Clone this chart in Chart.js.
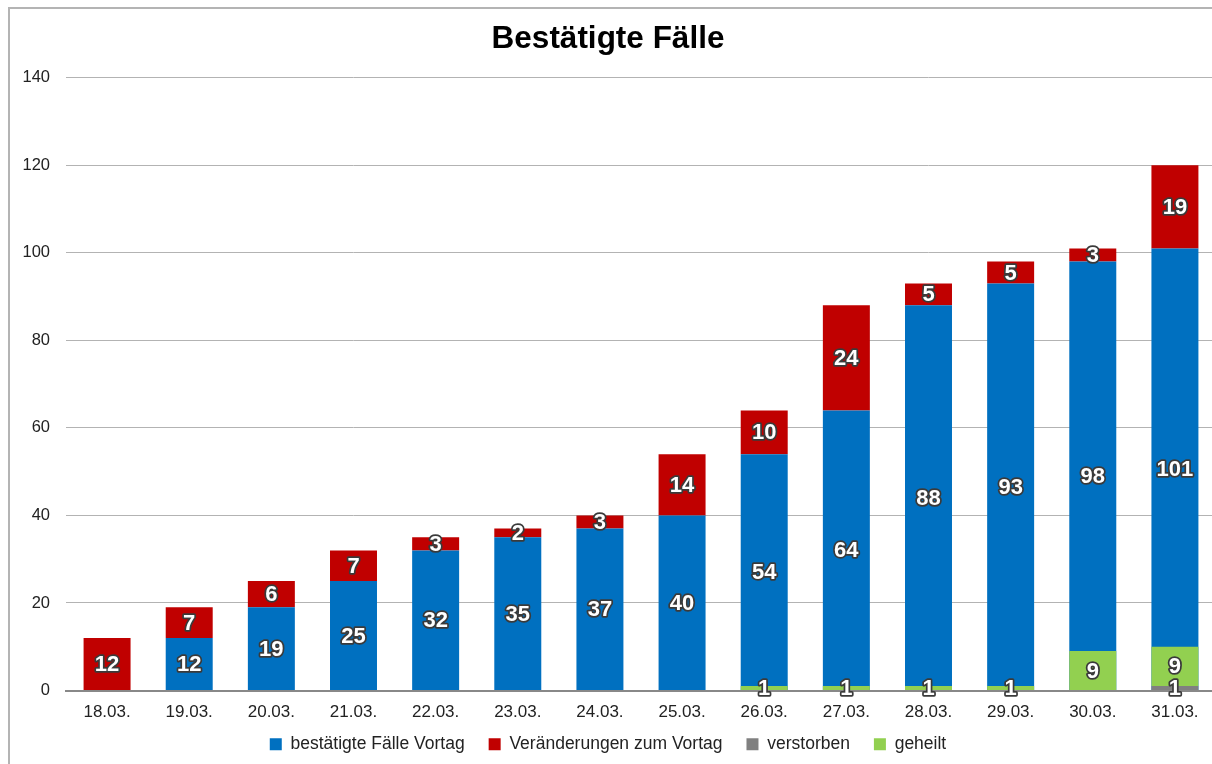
<!DOCTYPE html>
<html lang="de">
<head>
    <meta charset="UTF-8">
    <title>Bestätigte Fälle</title>
    <script src="https://cdn.jsdelivr.net/npm/chart.js"></script>
    <style>
        html, body { margin: 0; padding: 0; background: #fff; overflow: hidden; }
        .frame { position: absolute; left: 8px; top: 7px; width: 1220px; height: 800px; border: 2px solid #b4b4b4; box-sizing: border-box; }
        .wrap { position: absolute; left: 0; top: 0; width: 1230px; height: 764px; }
    </style>
</head>
<body>
    <div class="frame"></div>
    <div class="wrap">
        <canvas id="chart" width="1230" height="764"></canvas>
    </div>

    <script>
        const labels = ['18.03.', '19.03.', '20.03.', '21.03.', '22.03.', '23.03.', '24.03.',
                        '25.03.', '26.03.', '27.03.', '28.03.', '29.03.', '30.03.', '31.03.'];
        const vortag = [0, 12, 19, 25, 32, 35, 37, 40, 54, 64, 88, 93, 98, 101];
        const veraenderung = [12, 7, 6, 7, 3, 2, 3, 14, 10, 24, 5, 5, 3, 19];
        const verstorben = [0, 0, 0, 0, 0, 0, 0, 0, 0, 0, 0, 0, 0, 1];
        const geheilt = [0, 0, 0, 0, 0, 0, 0, 0, 1, 1, 1, 1, 9, 9];
        const yTicks = [0, 20, 40, 60, 80, 100, 120, 140];

        const fontFamily = '"Liberation Sans", Arial, sans-serif';

        // white numbers with a dark outline, centred in each segment
        const barLabels = {
            id: 'barLabels',
            afterLayout(chart) {
                // x axis is kept short for layout; let its labels draw below it
                chart.scales.x.bottom += 24;
            },
            afterDatasetsDraw(chart) {
                const ctx = chart.ctx;
                ctx.save();
                ctx.font = 'bold 22px ' + fontFamily;
                ctx.textAlign = 'center';
                ctx.textBaseline = 'middle';
                ctx.lineJoin = 'round';
                ctx.lineWidth = 3.5;
                ctx.strokeStyle = '#3a3a3a';
                ctx.fillStyle = '#ffffff';
                // stack a first, then the overlay stack on top
                [0, 1, 2, 3].forEach(di => {
                    const ds = chart.data.datasets[di];
                    const meta = chart.getDatasetMeta(di);
                    meta.data.forEach((el, i) => {
                        const v = ds.data[i];
                        if (!v) return;
                        const y = (el.y + el.base) / 2 + 1;
                        ctx.strokeText(String(v), el.x, y);
                        ctx.fillText(String(v), el.x, y);
                    });
                });
                ctx.restore();
            }
        };

        const ctx = document.getElementById('chart').getContext('2d');
        new Chart(ctx, {
            type: 'bar',
            data: {
                labels: labels,
                datasets: [
                    { label: 'bestätigte Fälle Vortag', data: vortag, backgroundColor: '#0070c0', stack: 'a', order: 2 },
                    { label: 'Veränderungen zum Vortag', data: veraenderung, backgroundColor: '#c00000', stack: 'a', order: 2 },
                    { label: 'verstorben', data: verstorben, backgroundColor: '#808080', stack: 'b', order: 1 },
                    { label: 'geheilt', data: geheilt, backgroundColor: '#92d050', stack: 'b', order: 1 }
                ]
            },
            options: {
                responsive: false,
                animation: false,
                grouped: false,
                categoryPercentage: 1,
                barPercentage: 0.572,
                layout: { padding: { left: 0, right: 14, top: 0, bottom: 1 } },
                plugins: {
                    title: {
                        display: true,
                        text: 'Bestätigte Fälle',
                        color: '#000',
                        font: { family: fontFamily, size: 31.5, weight: 'bold' },
                        padding: { top: 20, bottom: 20 }
                    },
                    legend: {
                        position: 'bottom',
                        labels: {
                            boxWidth: 12,
                            boxHeight: 12,
                            padding: 24,
                            color: '#222',
                            font: { family: fontFamily, size: 17.5 },
                            sort: (a, b) => a.datasetIndex - b.datasetIndex
                        }
                    },
                    tooltip: { enabled: false }
                },
                scales: {
                    x: {
                        stacked: true,
                        grid: { display: false, drawTicks: false },
                        border: { display: true, color: '#888', width: 2 },
                        ticks: { color: '#222', padding: 12, font: { family: fontFamily, size: 17 } },
                        afterFit(scale) { scale.height = 21; }
                    },
                    y: {
                        stacked: true,
                        min: 0,
                        max: 140,
                        afterBuildTicks(scale) { scale.ticks = yTicks.map(v => ({ value: v })); },
                        grid: { color: '#b3b3b3', lineWidth: 1, drawTicks: false },
                        border: { display: false },
                        ticks: { color: '#222', padding: 16, font: { family: fontFamily, size: 16.5 } },
                        afterFit(scale) { scale.width = 66; }
                    }
                }
            },
            plugins: [barLabels]
        });
    </script>
</body>
</html>
